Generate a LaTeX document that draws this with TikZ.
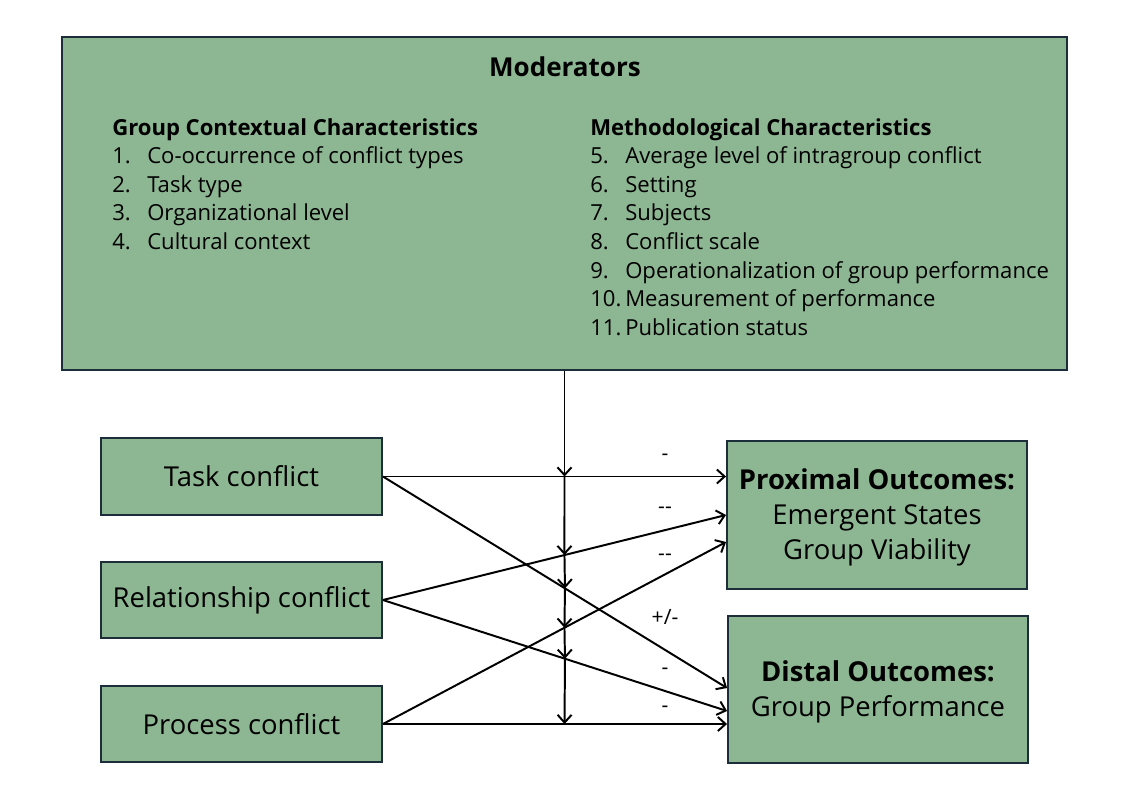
\documentclass[tikz,border=0pt]{standalone}
\usepackage{fontspec}
\setmainfont{Open Sans}
\usepackage{tikz}
\usetikzlibrary{arrows.meta,positioning,calc}
\definecolor{boxgreen}{RGB}{141,183,147}
\definecolor{boxline}{RGB}{27,46,58}
\tikzset{
  box/.style={rectangle, draw=boxline, fill=boxgreen, line width=1.3pt,
              minimum width=#1, inner sep=0pt, align=center,
              font=\fontsize{19.5}{25}\selectfont},
  item/.style={anchor=base west, inner sep=0pt, font=\fontsize{15.7}{18}\selectfont},
  arr/.style={-{Straight Barb[length=5.5pt,width=10pt]}, line width=1.4pt},
  sign/.style={font=\fontsize{15}{17}\selectfont, inner sep=1pt},
}

\begin{document}
\begin{tikzpicture}[x=0.025cm,y=-0.025cm]
  \useasboundingbox (0,0) rectangle (1129,796);

  % moderators
  \node[box=25.125cm, minimum height=8.325cm] (mod) at (564.5,203.5) {};
  \node[font=\fontsize{18.5}{21}\selectfont\bfseries] (modtitle) at (565,67) {Moderators};
  \node[item, font=\fontsize{15.7}{18}\selectfont\bfseries] (ghead) at (112,135) {Group Contextual Characteristics};
  \node[item, font=\fontsize{15.7}{18}\selectfont\bfseries] (mhead) at (590,135) {Methodological Characteristics};
  \foreach \i/\txt in {1/{Co-occurrence of conflict types},2/{Task type},
      3/{Organizational level},4/{Cultural context}}{
    \node[item] (gnum\i) at (112,{135+\i*28.6}) {\i.};
    \node[item] (gitem\i) at (147,{135+\i*28.6}) {\txt};
  }
  \foreach \i/\txt in {5/{Average level of intragroup conflict},6/{Setting},7/{Subjects},
      8/{Conflict scale},9/{Operationalization of group performance},
      10/{Measurement of performance},11/{Publication status}}{
    \node[item] (mnum\i) at (590,{135+(\i-4)*28.6}) {\i.};
    \node[item] (mitem\i) at (625,{135+(\i-4)*28.6}) {\txt};
  }

  % conflict types
  \node[box=7.025cm, minimum height=1.925cm] (task) at (241.5,476.5) {Task conflict};
  \node[box=7.025cm, minimum height=1.9cm] (rel) at (241.5,600) {Relationship conflict};
  \node[box=7.025cm, minimum height=1.9cm] (proc) at (241.5,724) {Process conflict};

  % outcomes
  \node[box=7.5cm, minimum height=3.7cm, text depth=1.5pt] (prox) at (877,515)
    {\textbf{Proximal Outcomes:}\\Emergent States\\Group Viability};
  \node[box=7.5cm, minimum height=3.675cm, text depth=1.5pt] (dist) at (878,689.5)
    {\textbf{Distal Outcomes:}\\Group Performance};

  \coordinate (pin1) at (task.east -| prox.west);
  \coordinate (pin2) at (prox.west |- 0,515);
  \coordinate (pin3) at (prox.west |- 0,542);
  \coordinate (din1) at (dist.west |- 0,688);
  \coordinate (din2) at (dist.west |- 0,711);
  \coordinate (din3) at (proc.east -| dist.west);

  \draw[arr] (task.east) -- (pin1);
  \draw[arr] (task.east) -- (din1);
  \draw[arr] (rel.east) -- (pin2);
  \draw[arr] (rel.east) -- (din2);
  \draw[arr] (proc.east) -- (pin3);
  \draw[arr] (proc.east) -- (din3);

  % moderator line hits each path
  \coordinate (c1) at (task.east -| mod.south);
  \coordinate (c2) at ($(rel.east)!0.529!(pin2)$);
  \coordinate (c3) at ($(task.east)!0.529!(din1)$);
  \coordinate (c4) at ($(proc.east)!0.529!(pin3)$);
  \coordinate (c5) at ($(rel.east)!0.529!(din2)$);
  \coordinate (c6) at (proc.east -| mod.south);
  \draw[arr] (mod.south) -- (c1);
  \foreach \a/\b in {c1/c2,c2/c3,c3/c4,c4/c5,c5/c6}
    \draw[arr] (\a) -- (\b);

  % signs
  \node[sign] (s1) at (665,457) {-};
  \node[sign] (s2) at (665,510) {-{}-};
  \node[sign] (s3) at (665,557) {-{}-};
  \node[sign] (s4) at (665,617) {+/-};
  \node[sign] (s5) at (665,671) {-};
  \node[sign] (s6) at (665,709) {-};
\end{tikzpicture}
\end{document}
